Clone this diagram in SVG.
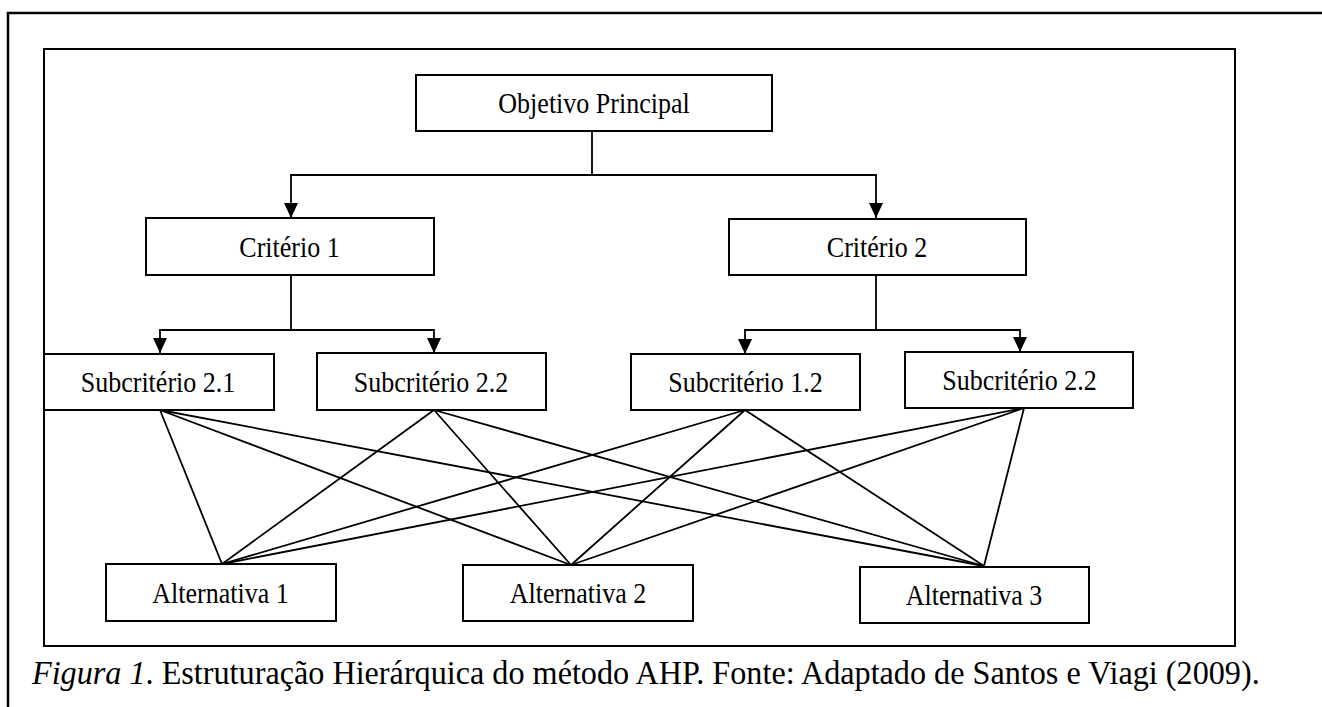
<svg xmlns="http://www.w3.org/2000/svg" width="1322" height="707" viewBox="0 0 1322 707">
<style>
.box{fill:#fff;stroke:#000;stroke-width:2}
.lbl{font-family:"Liberation Serif","Times New Roman",serif;font-size:26px;fill:#000;text-anchor:middle}
.ln{fill:none;stroke:#000;stroke-width:1.8}
.cap{font-family:"Liberation Serif","Times New Roman",serif;font-size:32.2px;fill:#000}
</style>
<defs>
<marker id="arr" markerUnits="userSpaceOnUse" markerWidth="15" markerHeight="14" viewBox="0 0 15 14" refX="15" refY="7" orient="auto">
<path d="M0,0 L15,7 L0,14 z" fill="#000"/>
</marker>
</defs>
<rect width="1322" height="707" fill="#fff"/>
<path d="M1322,13 H8 V707" fill="none" stroke="#000" stroke-width="2.5"/>
<rect x="44" y="49" width="1191" height="597" fill="none" stroke="#000" stroke-width="2"/>
<g id="connectors">
<path class="ln" d="M592,131 V175"/>
<path class="ln" d="M592,175 H291 V218" marker-end="url(#arr)"/>
<path class="ln" d="M592,175 H876 V218" marker-end="url(#arr)"/>
<path class="ln" d="M291,275 V330 H160 V353" marker-end="url(#arr)"/>
<path class="ln" d="M291,330 H434 V353" marker-end="url(#arr)"/>
<path class="ln" d="M876,275 V330 H745 V354" marker-end="url(#arr)"/>
<path class="ln" d="M876,330 H1020 V352" marker-end="url(#arr)"/>
<path class="ln" d="M160,410 L222,564 M160,410 L571,565 M160,410 L984,566"/>
<path class="ln" d="M434,410 L222,564 M434,410 L571,565 M434,410 L984,566"/>
<path class="ln" d="M745,410 L222,564 M745,410 L571,565 M745,410 L984,566"/>
<path class="ln" d="M1024,408 L222,564 M1024,408 L571,565 M1024,408 L984,566"/>
</g>
<g id="objetivo"><rect class="box" x="416" y="75" width="356" height="56"/><text class="lbl" transform="translate(594,113) scale(1,1.12)">Objetivo Principal</text></g>
<g id="criterio1"><rect class="box" x="146" y="218" width="288" height="57"/><text class="lbl" transform="translate(289.5,256.5) scale(1,1.12)">Critério 1</text></g>
<g id="criterio2"><rect class="box" x="729" y="219" width="297" height="56"/><text class="lbl" transform="translate(877,257) scale(1,1.12)">Critério 2</text></g>
<g id="sub21"><rect class="box" x="44" y="354" width="230" height="56"/><text class="lbl" transform="translate(158,392) scale(1,1.12)">Subcritério 2.1</text></g>
<g id="sub22a"><rect class="box" x="317" y="353" width="229" height="57"/><text class="lbl" transform="translate(431,392) scale(1,1.12)">Subcritério 2.2</text></g>
<g id="sub12"><rect class="box" x="631" y="354" width="229" height="56"/><text class="lbl" transform="translate(745.5,392) scale(1,1.12)">Subcritério 1.2</text></g>
<g id="sub22b"><rect class="box" x="905" y="352" width="228" height="56"/><text class="lbl" transform="translate(1019.5,390) scale(1,1.12)">Subcritério 2.2</text></g>
<g id="alt1"><rect class="box" x="106" y="564" width="230" height="57"/><text class="lbl" transform="translate(220.5,602.5) scale(1,1.12)">Alternativa 1</text></g>
<g id="alt2"><rect class="box" x="463" y="565" width="230" height="56"/><text class="lbl" transform="translate(578,603) scale(1,1.12)">Alternativa 2</text></g>
<g id="alt3"><rect class="box" x="860" y="567" width="229" height="56"/><text class="lbl" transform="translate(974,605) scale(1,1.12)">Alternativa 3</text></g>
<text class="cap" transform="translate(32,684) scale(1,1.06)"><tspan font-style="italic">Figura 1</tspan>. Estruturação Hierárquica do método AHP. Fonte: Adaptado de Santos e Viagi (2009).</text>
</svg>
